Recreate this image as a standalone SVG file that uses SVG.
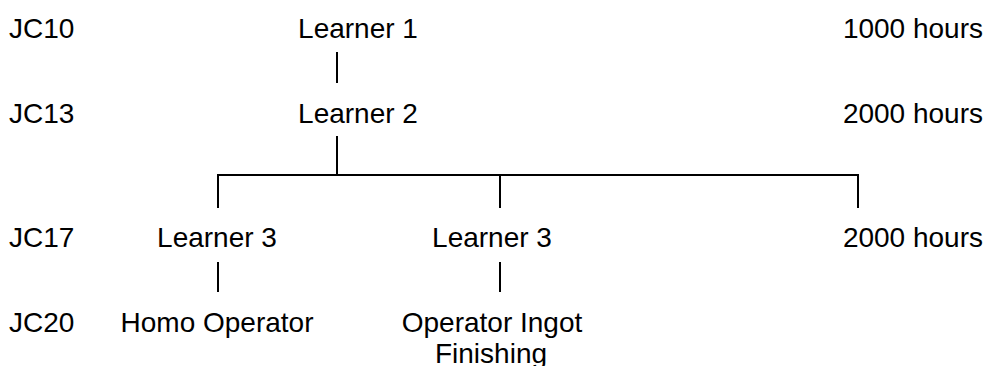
<svg xmlns="http://www.w3.org/2000/svg" width="984" height="366" viewBox="0 0 984 366">
<style>
text{font-family:"Liberation Sans",Arial,sans-serif;font-size:28px;fill:#000}
.c{text-anchor:middle}
.e{text-anchor:end}
line{stroke:#000;stroke-width:2}
</style>
<rect width="984" height="366" fill="#fff"/>
<g id="levels">
<text x="9" y="38">JC10</text>
<text x="9" y="123">JC13</text>
<text x="9" y="247">JC17</text>
<text x="9" y="332">JC20</text>
</g>
<g id="hours">
<text class="e" x="983" y="38">1000 hours</text>
<text class="e" x="983" y="123">2000 hours</text>
<text class="e" x="983" y="247">2000 hours</text>
</g>
<g id="learner1"><text class="c" x="358" y="38">Learner 1</text></g>
<g id="learner2"><text class="c" x="358" y="123">Learner 2</text></g>
<g id="learner3a"><text class="c" x="217" y="247">Learner 3</text></g>
<g id="learner3b"><text class="c" x="492" y="247">Learner 3</text></g>
<g id="homo"><text class="c" x="217" y="332">Homo Operator</text></g>
<g id="ingot"><text class="c" x="492" y="332">Operator Ingot</text><text class="c" x="491" y="363">Finishing</text></g>
<g id="connectors">
<line x1="337" y1="52" x2="337" y2="83"/>
<line x1="337" y1="136" x2="337" y2="175"/>
<line x1="217" y1="175" x2="859" y2="175"/>
<line x1="218" y1="175" x2="218" y2="208"/>
<line x1="500" y1="175" x2="500" y2="208"/>
<line x1="858" y1="175" x2="858" y2="208"/>
<line x1="218" y1="262" x2="218" y2="292"/>
<line x1="500" y1="262" x2="500" y2="292"/>
</g>
</svg>
